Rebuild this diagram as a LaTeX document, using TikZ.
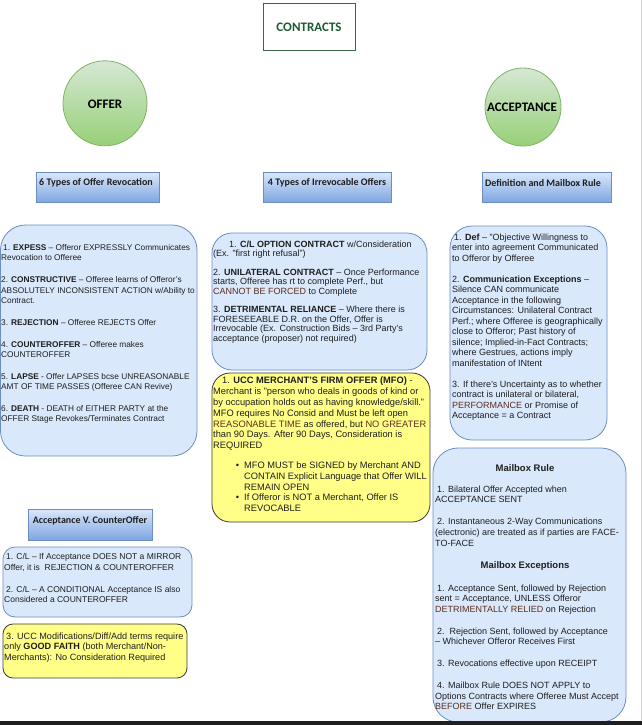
\documentclass[tikz,border=0pt]{standalone}
\usepackage{fontspec}
\setmainfont{Liberation Sans}
\newfontfamily\calib{Carlito}
\usetikzlibrary{shapes.geometric}
\definecolor{bfill}{HTML}{DAE8FC}
\definecolor{bline}{HTML}{6C8EBF}
\definecolor{bbot}{HTML}{7EA6E0}
\definecolor{gtop}{HTML}{D5E8D4}
\definecolor{gbot}{HTML}{97D077}
\definecolor{gline}{HTML}{82B366}
\definecolor{yfill}{HTML}{FFFF88}
\definecolor{yline}{HTML}{36393D}
\definecolor{ink}{HTML}{1E1E1E}
\definecolor{acc}{HTML}{5E2E1C}
\definecolor{cgreen}{HTML}{1E5A32}
\newcommand\acctxt[1]{\textcolor{acc}{#1}}
\newcommand\bul[1]{\hspace*{31pt}\llap{\textbullet\hspace{5pt}}#1}
\newcommand\bulc[1]{\hspace*{31pt}#1}
\tikzset{
  panel/.style={draw=bline, fill=bfill, line width=0.8pt, inner sep=0pt},
  ypanel/.style={draw=yline, fill=yfill, line width=0.8pt, inner sep=0pt},
  hdr/.style={draw=bline, top color=bfill, bottom color=bbot, line width=0.8pt, inner sep=0pt},
  circ/.style={ellipse, draw=gline, top color=gtop, bottom color=gbot, line width=0.8pt, inner sep=0pt},
  hdrtext/.style={font=\calib\bfseries\fontsize{10}{12}\selectfont, text=ink, inner sep=0pt},
  bigtext/.style={font=\calib\bfseries\fontsize{13}{15}\selectfont, inner sep=0pt},
  body/.style={anchor=north west, align=left, inner sep=0pt, text=ink},
  subhead/.style={font=\bfseries\fontsize{9.5}{11}\selectfont, text=ink, inner sep=0pt},
}
\begin{document}
\begin{tikzpicture}[x=1pt,y=-1pt]
\path[use as bounding box, fill=white] (0,0) rectangle (642,725);

% title and circles
\node[draw=cgreen!70!gray, fill=white, line width=0.8pt, minimum width=92pt, minimum height=46.7pt, inner sep=0pt] (contracts) at (309,26.7) {};
\node[bigtext, text=cgreen] (contractst) at (309,27) {CONTRACTS};
\node[circ, minimum width=84pt, minimum height=85pt] (offer) at (105,103.3) {};
\node[bigtext, text=black] (offert) at (105,104) {OFFER};
\node[circ, minimum width=76pt, minimum height=78pt] (accept) at (523,107) {};
\node[bigtext, text=black] (acceptt) at (522,107.7) {ACCEPTANCE};

% headers
\node[hdr, minimum width=123pt, minimum height=30.3pt] (hdr1) at (97.5,187.2) {};
\node[hdrtext] (hdr1t) at (96,183) {6 Types of Offer Revocation};
\node[hdr, minimum width=128pt, minimum height=30.3pt] (hdr2) at (327,187.2) {};
\node[hdrtext] (hdr2t) at (327,183) {4 Types of Irrevocable Offers};
\node[hdr, minimum width=129pt, minimum height=30.3pt] (hdr3) at (546.5,187.2) {};
\node[hdrtext] (hdr3t) at (543,183) {Definition and Mailbox Rule};
\node[hdr, minimum width=124pt, minimum height=31pt] (hdr4) at (90,524.5) {};
\node[hdrtext] (hdr4t) at (90,521) {Acceptance V. CounterOffer};

% panels
\node[panel, rounded corners=25pt, minimum width=196.5pt, minimum height=231pt] (leftbox) at (98.75,340.5) {};
\node[panel, rounded corners=20pt, minimum width=215pt, minimum height=137pt] (midbox) at (319.5,301.5) {};
\node[ypanel, rounded corners=18pt, minimum width=218pt, minimum height=149pt] (ybox) at (321,447.5) {};
\node[panel, rounded corners=22pt, minimum width=157pt, minimum height=214pt] (defbox) at (528.5,333) {};
\node[panel, rounded corners=25pt, minimum width=193pt, minimum height=274pt] (mailbox) at (529.5,585) {};
\node[panel, rounded corners=12pt, minimum width=189pt, minimum height=70pt] (cntbox) at (97.5,582) {};
\node[ypanel, rounded corners=10pt, minimum width=184pt, minimum height=54pt] (ysmall) at (95,651) {};

% texts
\node[body, font=\fontsize{8.3}{10.2}\selectfont] (leftt) at (1,244.5) {%
\hspace*{2pt}1. \textbf{EXPESS} -- Offeror EXPRESSLY Communicates\\
Revocation to Offeree\\[11.8pt]
2. \textbf{CONSTRUCTIVE} -- Offeree learns of Offeror's\\
ABSOLUTELY INCONSISTENT ACTION w/Ability to\\
Contract.\\[11.8pt]
3. \textbf{REJECTION} -- Offeree REJECTS Offer\\[11.8pt]
4. \textbf{COUNTEROFFER} -- Offeree makes\\
COUNTEROFFER\\[11.8pt]
5. \textbf{LAPSE} - Offer LAPSES bcse UNREASONABLE\\
AMT OF TIME PASSES (Offeree CAN Revive)\\[11.8pt]
6. \textbf{DEATH} - DEATH of EITHER PARTY at the\\
OFFER Stage Revokes/Terminates Contract};

\node[body, font=\fontsize{9}{9.4}\selectfont] (midt) at (213,240.5) {%
\hspace*{16pt}1. \textbf{C/L OPTION CONTRACT} w/Consideration\\
(Ex. "first right refusal")\\[9.3pt]
2. \textbf{UNILATERAL CONTRACT} -- Once Performance\\
starts, Offeree has rt to complete Perf., but\\
\acctxt{CANNOT BE FORCED} to Complete\\[9.3pt]
3. \textbf{DETRIMENTAL RELIANCE} -- Where there is\\
FORESEEABLE D.R. on the Offer, Offer is\\
Irrevocable (Ex. Construction Bids -- 3rd Party's\\
acceptance (proposer) not required)};

\node[body, font=\fontsize{9.3}{10.9}\selectfont] (yelt) at (213,376.5) {%
\hspace*{9pt}1. \textbf{UCC MERCHANT'S FIRM OFFER (MFO)} -\\
Merchant is "person who deals in goods of kind or\\
by occupation holds out as having knowledge/skill."\\
MFO requires No Consid and Must be left open\\
\acctxt{REASONABLE TIME} as offered, but \acctxt{NO GREATER}\\
than 90 Days. After 90 Days, Consideration is\\
REQUIRED\\[8.5pt]
\bul{MFO MUST be SIGNED by Merchant AND}\\
\bulc{CONTAIN Explicit Language that Offer WILL}\\
\bulc{REMAIN OPEN}\\
\bul{If Offeror is NOT a Merchant, Offer IS}\\
\bulc{REVOCABLE}};

\node[body, font=\fontsize{9}{10.5}\selectfont] (deft) at (452,233.5) {%
\hspace*{2pt}1. \textbf{Def} -- "Objective Willingness to\\
enter into agreement Communicated\\
to Offeror by Offeree\\[10.5pt]
2. \textbf{Communication Exceptions} --\\
Silence CAN communicate\\
Acceptance in the following\\
Circumstances: Unilateral Contract\\
Perf.; where Offeree is geographically\\
close to Offeror; Past history of\\
silence; Implied-in-Fact Contracts;\\
where Gestrues, actions imply\\
manifestation of INtent\\[10.5pt]
3. If there's Uncertainty as to whether\\
contract is unilateral or bilateral,\\
\acctxt{PERFORMANCE} or Promise of\\
Acceptance = a Contract};

\node[subhead] (mbh1) at (525,468) {Mailbox Rule};
\node[body, font=\fontsize{9}{10.6}\selectfont] (mbt1) at (435,485.5) {%
\hspace*{2pt}1. Bilateral Offer Accepted when\\
ACCEPTANCE SENT\\[11.4pt]
\hspace*{2pt}2. Instantaneous 2-Way Communications\\
(electronic) are treated as if parties are FACE-\\
TO-FACE};
\node[subhead] (mbh2) at (525,566) {Mailbox Exceptions};
\node[body, font=\fontsize{9}{10.6}\selectfont] (mbt2) at (435,584.5) {%
\hspace*{2pt}1. Acceptance Sent, followed by Rejection\\
sent = Acceptance, UNLESS Offeror\\
\acctxt{DETRIMENTALLY RELIED} on Rejection\\[11.2pt]
\hspace*{2pt}2.\ \ Rejection Sent, followed by Acceptance\\
-- Whichever Offeror Receives First\\[11.2pt]
\hspace*{2pt}3. Revocations effective upon RECEIPT\\[11.2pt]
\hspace*{2pt}4. Mailbox Rule DOES NOT APPLY to\\
Options Contracts where Offeree Must Accept\\
\acctxt{BEFORE} Offer EXPIRES};

\node[body, font=\fontsize{8.5}{10.5}\selectfont] (cntt) at (4,553.5) {%
\hspace*{2pt}1. C/L -- If Acceptance DOES NOT a MIRROR\\
Offer, it is\ \ REJECTION \& COUNTEROFFER\\[11.5pt]
\hspace*{2pt}2. C/L -- A CONDITIONAL Acceptance IS also\\
Considered a COUNTEROFFER};

\node[body, font=\fontsize{9.1}{10.5}\selectfont] (ysmt) at (4,632.5) {%
\hspace*{2pt}3. UCC Modifications/Diff/Add terms require\\
only \textbf{GOOD FAITH} (both Merchant/Non-\\
Merchants): No Consideration Required};

% frame artifacts
\draw[gray!35, line width=1pt] (641,0) -- (641,721);
\fill[black!88] (0,721) rectangle (642,725);
\end{tikzpicture}
\end{document}
